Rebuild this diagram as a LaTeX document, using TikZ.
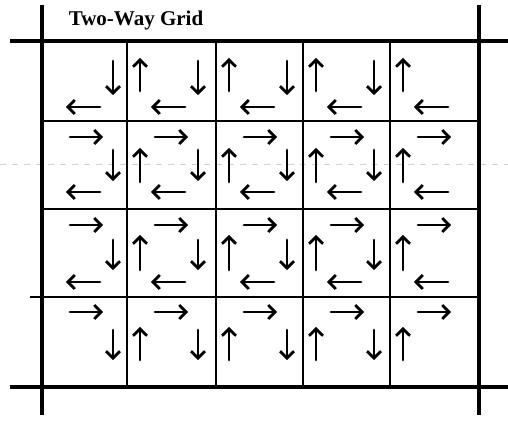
\documentclass[tikz,border=0pt]{standalone}
\usepackage{fontspec}
\setmainfont{Liberation Serif}
\usetikzlibrary{arrows.meta}

\tikzset{
  gridline/.style={line width=1.1pt},
  frameline/.style={line width=1.7pt},
  cellarrow/.style={line width=1.45pt,line cap=round,-{Straight Barb[length=3.4pt,width=7pt,line width=1.4pt]}},
}

\begin{document}
\begin{tikzpicture}[x=0.5pt,y=-0.5pt]
  \useasboundingbox (0,0) rectangle (508,421);

  % faint scan line
  \draw[gray!35,dashed,line width=0.4pt] (0,164) -- (508,164);

  % outer lines
  \draw[frameline] (10,41) -- (508,41);
  \draw[frameline] (10,387) -- (508,387);
  \draw[frameline] (42,5) -- (42,415);
  \draw[frameline] (479,5) -- (479,415);

  % cell lines
  \draw[gridline] (42,121) -- (479,121);
  \draw[gridline] (42,209) -- (479,209);
  \draw[gridline] (30,297) -- (479,297);
  \foreach \cx in {127,216,303,390}
    \draw[gridline] (\cx,41) -- (\cx,387);

  \node[font=\bfseries\fontsize{10.5}{12}\selectfont] (title) at (136,20) {Two-Way Grid};

  % arrows in each cell
  \foreach \i/\cx in {1/42,2/127,3/216,4/303,5/390}
    \foreach \j/\yr/\yua/\yub/\yda/\ydb/\yl in
        {1/0/58/91/61/95/107, 2/137/148/182/150/181/192,
         3/225/235/270/240/270/282, 4/312/327/360/330/360/0} {
      \ifnum\j>1
        \draw[cellarrow] (\cx+28,\yr) -- (\cx+61,\yr);
      \fi
      \ifnum\i<5
        \draw[cellarrow] (\cx+71,\yda) -- (\cx+71,\ydb);
      \fi
      \ifnum\i>1
        \draw[cellarrow] (\cx+13,\yub) -- (\cx+13,\yua);
      \fi
      \ifnum\j<4
        \draw[cellarrow] (\cx+58,\yl) -- (\cx+24,\yl);
      \fi
    }
\end{tikzpicture}
\end{document}
